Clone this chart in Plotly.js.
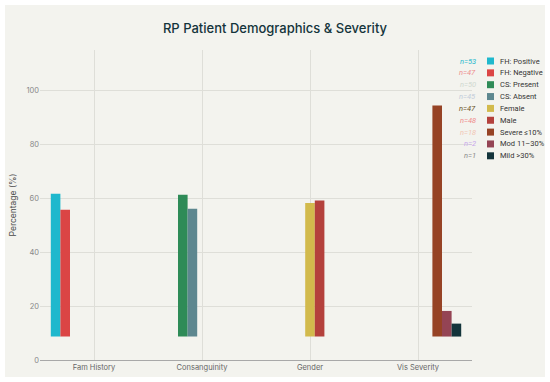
<!DOCTYPE html>
<html>
<head>
<meta charset="utf-8">
<script src="https://cdn.plot.ly/plotly-3.0.1.min.js"></script>
<style>
  html, body { margin: 0; padding: 0; background: #ffffff; }
  #wrap { position: relative; width: 550px; height: 382px; background: #ffffff; }
  #chart { position: absolute; left: 5px; top: 5px; width: 540px; height: 372px; }
</style>
</head>
<body>
<div id="wrap"><div id="chart"></div></div>
<script>
// ---- data ----
const categories = ['Fam History', 'Consanguinity', 'Gender', 'Vis Severity'];
const seriesNames = ['FH: Positive', 'FH: Negative', 'CS: Present', 'CS: Absent', 'Female', 'Male', 'Severe \u226410%', 'Mod 11\u201330%', 'Mild >30%'];
const seriesCategory = [0, 0, 1, 1, 2, 2, 3, 3, 3];
const seriesPct = [53.0, 47.0, 52.6, 47.4, 49.5, 50.5, 85.7, 9.5, 4.8];
const seriesN = [53, 47, 50, 45, 47, 48, 18, 2, 1];
const yTickVals = [0, 20, 40, 60, 80, 100];

// ---- styles ----
const colors = ['#1FB8CD', '#DB4545', '#2E8B57', '#5D878F', '#D2BA4C', '#B4413C', '#964325', '#944454', '#13343B'];
const nColors = ['#1FB8CD', '#EE8F8F', '#CFD8CF', '#C2CCDA', '#6B5327', '#F08C8C', '#F2C6B4', '#C7A6EC', '#8A8A8A'];
const barBase = 8.7;
const bg = '#F3F3EE';

// plot geometry (div pixels)
const W = 540, H = 372, L = 35, R = 73, T = 45, B = 17;
const pw = W - L - R, ph = H - T - B;
const px2x = (mx) => ((mx - 5) - L) / pw;
const px2y = (my) => ((H - B) - (my - 5)) / ph;

const traces = seriesNames.map((name, i) => {
  const y = categories.map((c, k) => (k === seriesCategory[i] ? seriesPct[i] : null));
  return {
    type: 'bar',
    name: name,
    x: categories,
    y: y,
    base: barBase,
    marker: { color: colors[i], line: { width: 0 } },
    showlegend: false,
    hoverinfo: 'skip'
  };
});

// compact legend drawn with annotations / shapes
const annotations = [];
const shapes = [];
const row0 = 61, rowStep = 11.85;
seriesNames.forEach((name, i) => {
  const cy = row0 + i * rowStep;
  shapes.push({
    type: 'rect', xref: 'paper', yref: 'paper',
    x0: px2x(487), x1: px2x(494), y0: px2y(cy + 3.5), y1: px2y(cy - 3.5),
    fillcolor: colors[i], line: { width: 0 }
  });
  annotations.push({
    xref: 'paper', yref: 'paper', x: px2x(498), y: px2y(cy),
    xanchor: 'left', yanchor: 'middle', showarrow: false,
    text: name, font: { family: 'Roboto, sans-serif', size: 7.5, color: '#333333' }
  });
  annotations.push({
    xref: 'paper', yref: 'paper', x: px2x(478), y: px2y(cy),
    xanchor: 'right', yanchor: 'middle', showarrow: false,
    text: '<i>n=' + seriesN[i] + '</i>', font: { family: 'Roboto, sans-serif', size: 7.5, color: nColors[i] }
  });
});

const layout = {
  width: W, height: H,
  paper_bgcolor: bg, plot_bgcolor: bg,
  margin: { l: L, r: R, t: T, b: B, pad: 0 },
  font: { family: 'Inter, sans-serif', color: '#555555' },
  title: {
    text: 'RP Patient Demographics &amp; Severity',
    font: { family: 'Inter, sans-serif', size: 13, color: '#13343B', weight: 500 },
    x: 0.5, xanchor: 'center', y: 1 - 23 / H, yanchor: 'middle'
  },
  barmode: 'group', bargap: 0.2, bargroupgap: 0,
  showlegend: false,
  xaxis: {
    type: 'category',
    showgrid: true, gridcolor: '#DEDED8', gridwidth: 1,
    showline: true, linecolor: '#A8A8A8', linewidth: 1,
    ticks: '', tickfont: { size: 7.5, color: '#666666' },
    automargin: false
  },
  yaxis: {
    range: [0, 115],
    tickvals: yTickVals,
    showgrid: true, gridcolor: '#DEDED8', gridwidth: 1,
    zeroline: false, showline: false,
    ticks: '', tickfont: { size: 7.5, color: '#888888' },
    automargin: false,
    title: { text: 'Percentage (%)', font: { size: 8.5, color: '#4A4A4A' }, standoff: 8 }
  },
  annotations: annotations,
  shapes: shapes
};

Plotly.newPlot('chart', traces, layout, { displayModeBar: false, staticPlot: true });
</script>
</body>
</html>
